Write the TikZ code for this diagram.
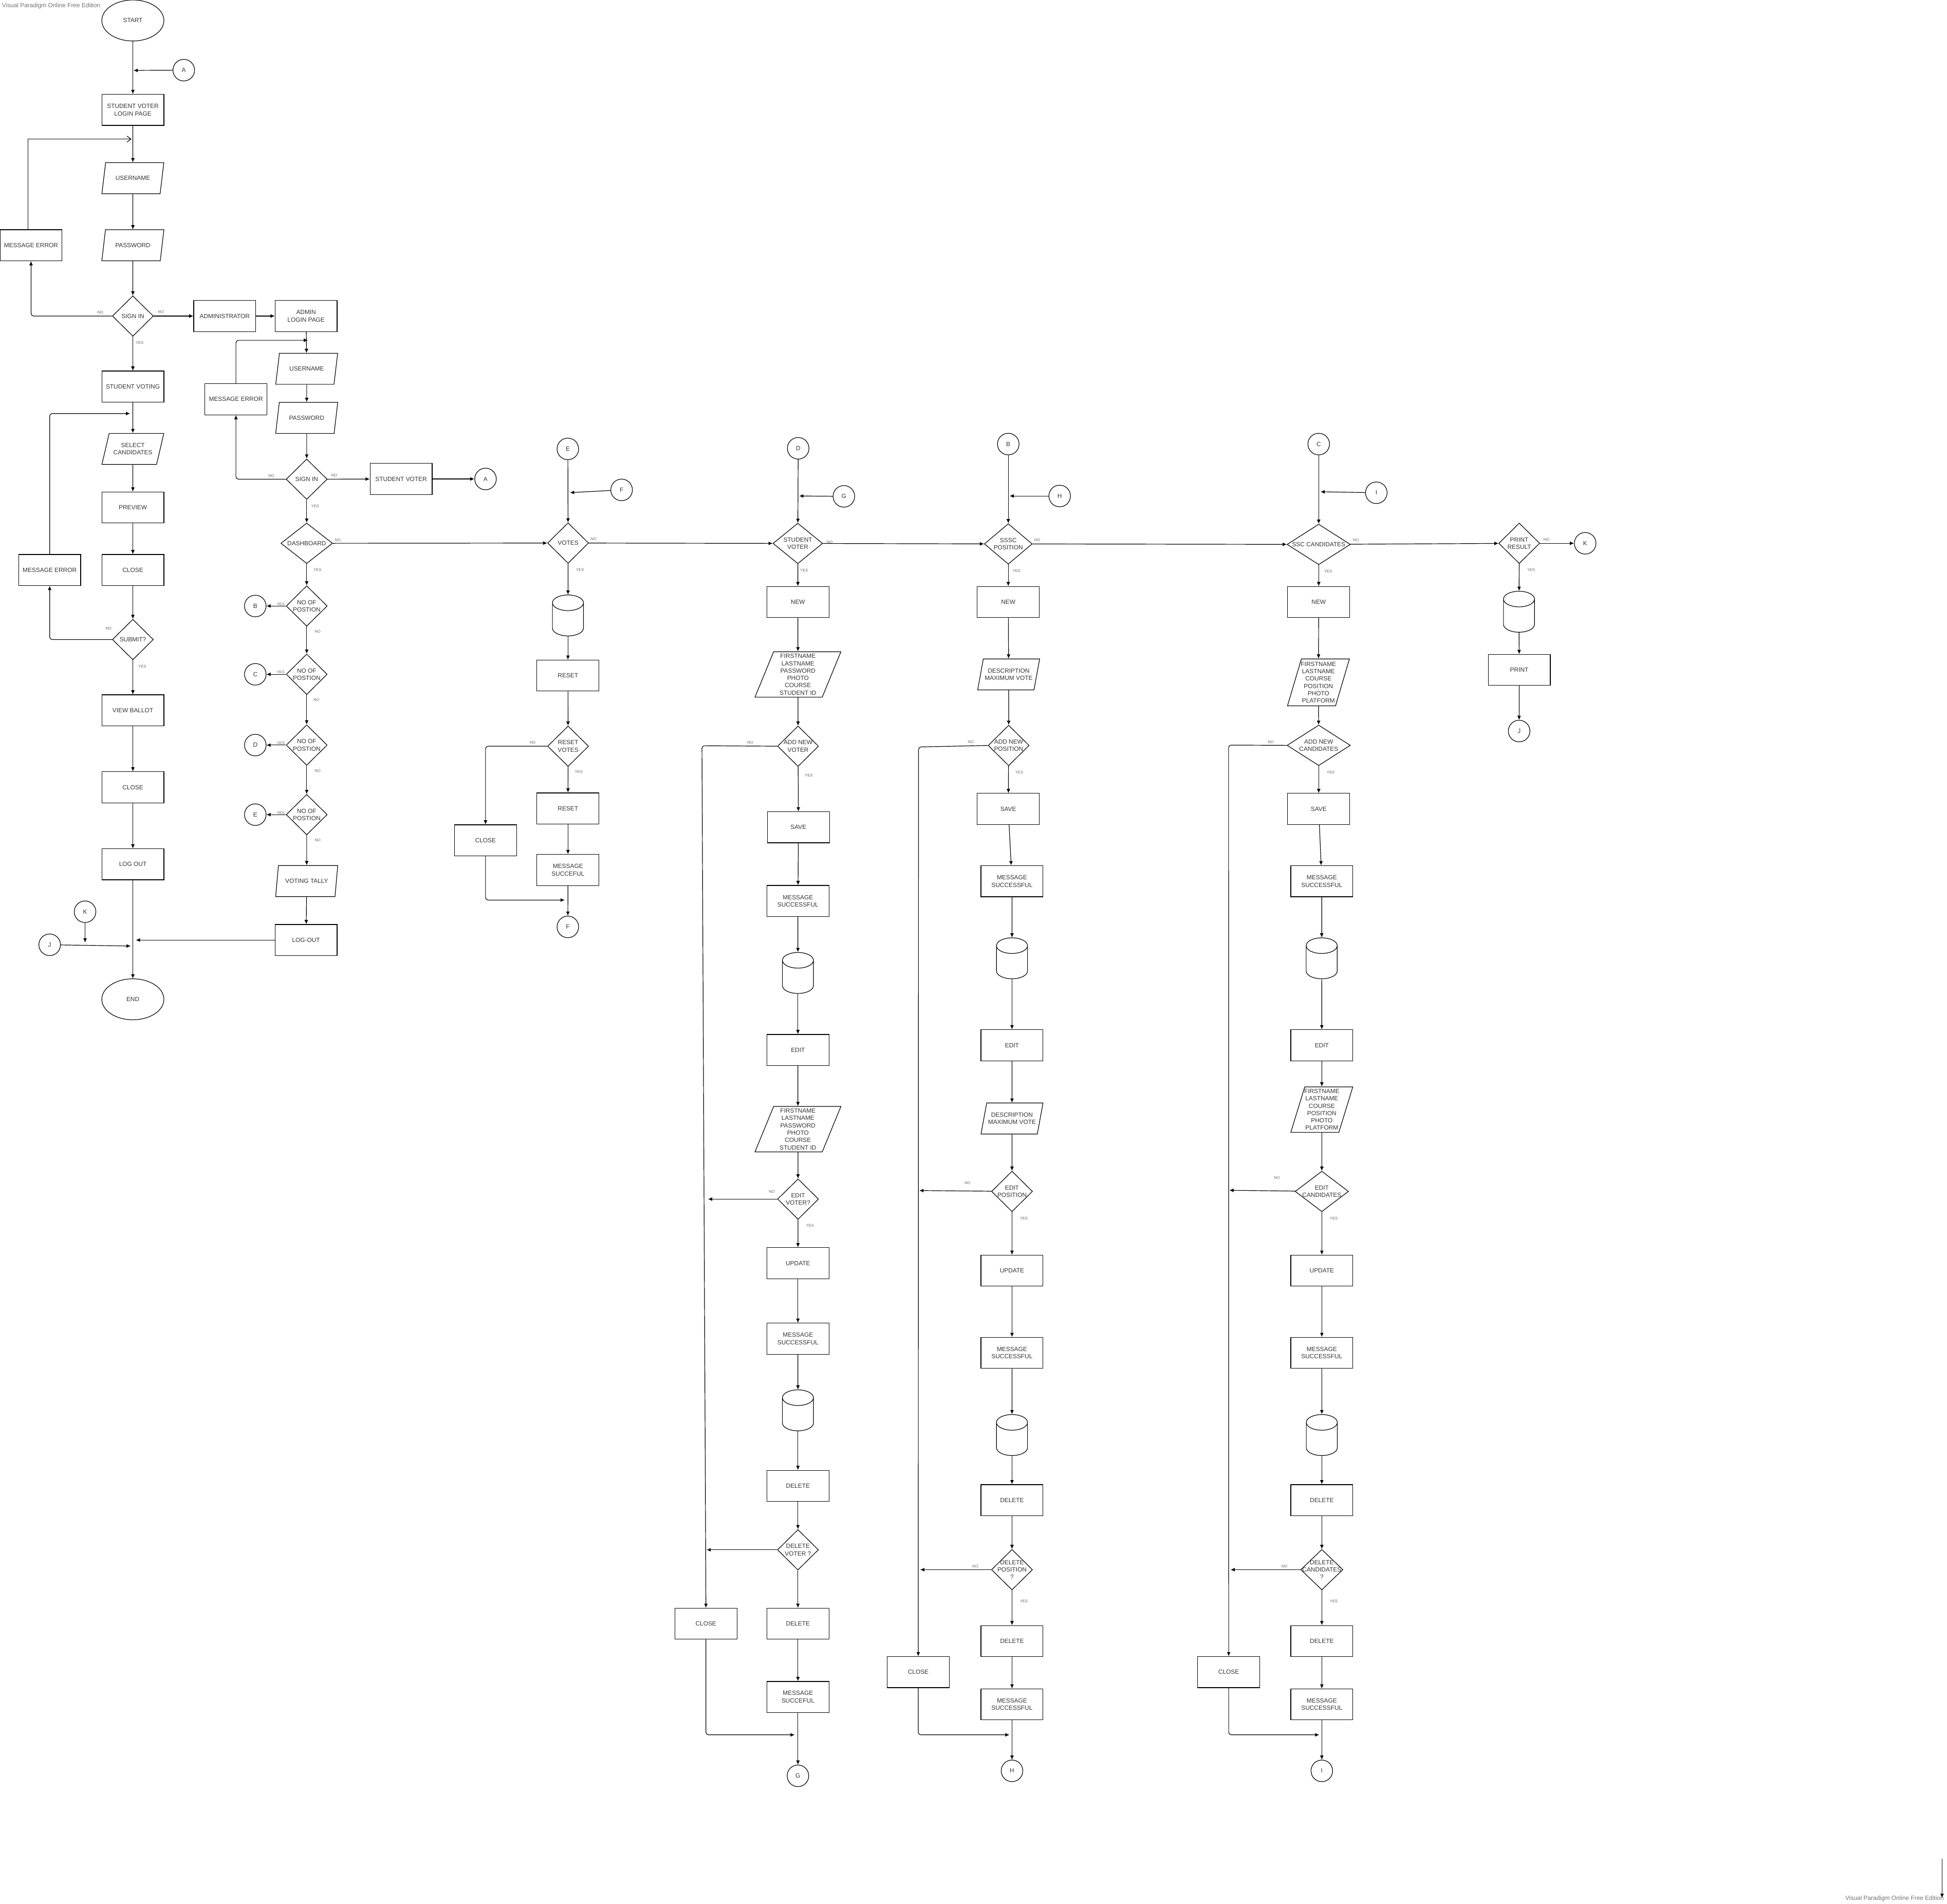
\documentclass[tikz,border=0pt]{standalone}
\usepackage{fontspec}
\setmainfont{Liberation Sans}
\usetikzlibrary{shapes.geometric,arrows.meta}
\begin{document}
\begin{tikzpicture}[x=0.05cm, y=-0.05cm,
    shp/.style={draw, line width=0.7pt, text=black!80, align=center, font=\fontsize{7}{8.5}\selectfont},
    box/.style={shp, rectangle, minimum width=2.5cm, minimum height=1.25cm, inner sep=1pt},
    io/.style={shp, trapezium, trapezium left angle=72, trapezium right angle=108, trapezium stretches=true,
        minimum width=2.5cm, minimum height=1.25cm, inner xsep=-8pt, inner ysep=0pt},
    form/.style={io, trapezium left angle=78, trapezium right angle=102, minimum height=1.83cm,
        font=\fontsize{7}{8.4}\selectfont},
    dec/.style={shp, diamond, minimum width=1.65cm, minimum height=1.63cm, inner sep=-6pt},
    term/.style={shp, ellipse, minimum width=2.5cm, minimum height=1.65cm},
    con/.style={shp, circle, minimum size=0.87cm, inner sep=0pt},
    store/.style={shp, cylinder, shape border rotate=90, aspect=1, minimum width=1.25cm, minimum height=1.65cm,
        inner sep=0.315cm, anchor=shape center},
    arr/.style={line width=0.7pt, -{Latex[length=1.7mm, width=1.5mm]}},
    lbl/.style={font=\fontsize{4.5}{5}\selectfont, text=black!60, inner sep=0.3pt},
    ylab/.style={lbl, at start, anchor=north west, xshift=#1, yshift=-0.17cm}, ylab/.default=0.12cm,
    nrlab/.style={lbl, at start, anchor=south west, xshift=#1, yshift=0.08cm}, nrlab/.default=0.1cm,
    nllab/.style={lbl, at start, anchor=south east, xshift=-#1, yshift=0.06cm}, nllab/.default=0.4cm,
    ywlab/.style={lbl, at start, anchor=south east, xshift=-0.03cm},
    wm/.style={font=\fontsize{7}{8}\selectfont, text=black!55, inner sep=0pt}
]
    \useasboundingbox (0,0) rectangle (1568,1533);

    % Watermarks
    \node[wm, anchor=west] (wm1) at (1.5,4.8) {Visual Paradigm Online Free Edition};
    \node[wm, anchor=east] (wm2) at (1565.5,1529) {Visual Paradigm Online Free Edition};
    \coordinate (s1) at (1564,1497);
    \coordinate (s2) at (1564,1528.3);
    \draw[arr] (s1) -- (s2);

    % Student voter side
    \node[term] (start) at (107,16.5) {START};
    \node[con] (cA1) at (148,56.5) {A};
    \node[box] (svlogin) at (107,88.5) {STUDENT VOTER\\LOGIN PAGE};
    \node[io] (user1) at (107,143.5) {USERNAME};
    \node[io] (pass1) at (107,197.5) {PASSWORD};
    \node[box] (err1) at (25,197.5) {MESSAGE ERROR};
    \node[dec] (sign1) at (107,254.5) {SIGN IN};
    \node[box] (admin) at (181,254.5) {ADMINISTRATOR};
    \node[box] (adlogin) at (246.5,254.5) {ADMIN\\LOGIN PAGE};
    \node[box] (voting) at (107,311.3) {STUDENT VOTING};
    \node[io] (select) at (107,361.5) {SELECT\\CANDIDATES};
    \node[box] (preview) at (107,408.6) {PREVIEW};
    \node[box] (close1) at (107,459) {CLOSE};
    \node[box] (err3) at (40,459) {MESSAGE ERROR};
    \node[dec] (submit) at (107,515) {SUBMIT?};
    \node[box] (ballot) at (107,572) {VIEW BALLOT};
    \node[box] (close2) at (107,634) {CLOSE};
    \node[box] (logout1) at (107,696) {LOG OUT};
    \node[term] (stop) at (107,804.7) {END};
    \node[con] (cK2) at (68.5,734.2) {K};
    \node[con] (cJ2) at (40,760.8) {J};

    \coordinate (jA) at (107.5,56.7);
    \coordinate (jE1) at (105.9,112);
    \coordinate (jS) at (104.8,333);
    \coordinate (jK) at (68.5,759);
    \coordinate (jJ) at (105.3,761.8);
    \coordinate (jL) at (109.4,757);

    \draw[arr] (start) -- (svlogin);
    \draw[arr] (cA1) -- (jA);
    \draw[arr] (svlogin) -- (user1);
    \draw[arr] (user1) -- (pass1);
    \draw[arr] (pass1) -- (sign1);
    \draw[line width=0.7pt, -{Straight Barb[length=1.6mm, width=2.4mm]}] ([xshift=-0.125cm]err1.north) |- (jE1);
    \draw[arr, rounded corners=3pt] (sign1.west) -| node[nllab=0.33cm]{NO} (err1.south);
    \draw[arr] (sign1) -- node[nrlab=0.15cm]{NO} (admin);
    \draw[arr] (admin) -- (adlogin);
    \draw[arr] (sign1) -- node[ylab=0.09cm]{YES} (voting);
    \draw[arr] (voting) -- (select);
    \draw[arr] (select) -- (preview);
    \draw[arr] (preview) -- (close1);
    \draw[arr] (close1) -- (submit);
    \draw[arr, rounded corners=3pt] (submit.west) -| node[nllab=0cm, yshift=0.3cm]{NO} (err3.south);
    \draw[arr, rounded corners=3pt] (err3.north) |- (jS);
    \draw[arr] (submit) -- node[ylab=0.2cm]{YES} (ballot);
    \draw[arr] (ballot) -- (close2);
    \draw[arr] (close2) -- (logout1);
    \draw[arr] (logout1) -- (stop);
    \draw[arr] (cK2) -- (jK);
    \draw[arr] (cJ2) -- (jJ);

    % Administrator side
    \node[io] (user2) at (247,297) {USERNAME};
    \node[box] (err2) at (190,321.5) {MESSAGE ERROR};
    \node[io] (pass2) at (247,336.5) {PASSWORD};
    \node[dec] (sign2) at (247,385.9) {SIGN IN};
    \node[box] (svoter) at (323,385.7) {STUDENT VOTER};
    \node[con] (cA2) at (391,385.7) {A};
    \node[dec, minimum width=2.08cm] (dash) at (247,437.5) {DASHBOARD};
    \node[dec] (pos1) at (247,488) {NO OF\\POSTION};
    \node[con] (cB1) at (205.6,488) {B};
    \node[dec] (pos2) at (247,543) {NO OF\\POSTION};
    \node[con] (cC1) at (205.6,543) {C};
    \node[dec] (pos3) at (247,600) {NO OF\\POSTION};
    \node[con] (cD1) at (205.6,600) {D};
    \node[dec] (pos4) at (247,656) {NO OF\\POSTION};
    \node[con] (cE1) at (205.6,656) {E};
    \node[io] (tally) at (247,709.5) {VOTING TALLY};
    \node[box] (logout2) at (246.5,757) {LOG-OUT};

    \coordinate (jE2) at (248,274);

    \draw[arr] (adlogin) -- (user2);
    \draw[arr, rounded corners=3pt] (err2.north) |- (jE2);
    \draw[arr] (user2) -- (pass2);
    \draw[arr] (pass2) -- (sign2);
    \draw[arr, rounded corners=3pt] (sign2.west) -| node[nllab=0.45cm]{NO} (err2.south);
    \draw[arr] (sign2) -- node[nrlab=0.13cm]{NO} (svoter);
    \draw[arr] (svoter) -- (cA2);
    \draw[arr] (sign2) -- node[ylab=0.16cm]{YES} (dash);
    \draw[arr] (dash) -- node[ylab=0.25cm]{YES} (pos1);
    \draw[arr] (pos1) -- node[ywlab]{YES} (cB1);
    \draw[arr] (pos1) -- node[ylab=0.3cm, yshift=0.05cm]{NO} (pos2);
    \draw[arr] (pos2) -- node[ywlab]{YES} (cC1);
    \draw[arr] (pos2) -- node[ylab=0.25cm, yshift=0.05cm]{NO} (pos3);
    \draw[arr] (pos3) -- node[ywlab]{YES} (cD1);
    \draw[arr] (pos3) -- node[ylab=0.3cm, yshift=0.05cm]{NO} (pos4);
    \draw[arr] (pos4) -- node[ywlab]{YES} (cE1);
    \draw[arr] (pos4) -- node[ylab=0.3cm, yshift=0.05cm]{NO} (tally);
    \draw[arr] (tally) -- (logout2);
    \draw[arr] (logout2) -- (jL);

    % Votes
    \node[con] (cE2) at (457.3,361.5) {E};
    \node[con] (cF1) at (500.6,394.5) {F};
    \node[dec] (votes) at (457.5,437.3) {VOTES};
    \node[store] (db1) at (457.4,495.6) {};
    \node[box] (reset1) at (457.4,544) {RESET};
    \node[dec] (rvotes) at (457.5,600.9) {RESET\\VOTES};
    \node[box] (reset2) at (457.4,651) {RESET};
    \node[box] (msgR) at (457.4,700.6) {MESSAGE\\SUCCEFUL};
    \node[con] (cF2) at (457.3,746.4) {F};
    \node[box] (closeR) at (391,676.7) {CLOSE};

    \coordinate (jF) at (459,396.7);
    \coordinate (jR) at (454.8,724.8);

    \draw[arr] (cE2) -- (votes);
    \draw[arr] (cF1) -- (jF);
    \draw[arr] (votes) -- node[ylab=0.3cm]{YES} (db1);
    \draw[arr] (db1) -- (reset1);
    \draw[arr] (reset1) -- (rvotes);
    \draw[arr, rounded corners=3pt] (rvotes.west) -| node[nllab=0.45cm]{NO} (closeR.north);
    \draw[arr] (rvotes) -- node[ylab=0.25cm, yshift=0.05cm]{YES} (reset2);
    \draw[arr] (reset2) -- (msgR);
    \draw[arr] (msgR) -- (cF2);
    \draw[arr, rounded corners=3pt] (closeR.south) |- (jR);

    % Student voter records
    \node[con] (cD2) at (642.8,361) {D};
    \node[con] (cG1) at (679.6,399.7) {G};
    \node[dec, minimum width=2cm] (svd) at (642.5,437.6) {STUDENT\\VOTER};
    \node[box] (newV) at (642.6,484.8) {NEW};
    \node[form, minimum width=3.47cm] (formV1) at (642.6,543.1) {FIRSTNAME\\LASTNAME\\PASSWORD\\PHOTO\\COURSE\\STUDENT ID};
    \node[dec] (addV) at (642.7,600.9) {ADD NEW\\VOTER};
    \node[box] (saveV) at (643,666.2) {SAVE};
    \node[box] (msgV1) at (642.6,725.5) {MESSAGE\\SUCCESSFUL};
    \node[store] (dbV1) at (642.6,783.5) {};
    \node[box] (editV) at (642.6,845.5) {EDIT};
    \node[form, minimum width=3.47cm] (formV2) at (642.6,909.3) {FIRSTNAME\\LASTNAME\\PASSWORD\\PHOTO\\COURSE\\STUDENT ID};
    \node[dec] (editQV) at (642.7,965.6) {EDIT\\VOTER?};
    \node[box] (updV) at (642.6,1017.2) {UPDATE};
    \node[box] (msgV2) at (642.6,1078) {MESSAGE\\SUCCESSFUL};
    \node[store] (dbV2) at (642.6,1135.7) {};
    \node[box] (delV) at (642.6,1196.5) {DELETE};
    \node[dec] (delQV) at (642.6,1248) {DELETE\\VOTER ?};
    \node[box] (del2V) at (642.6,1307.5) {DELETE};
    \node[box] (msgV3) at (642.6,1366.5) {MESSAGE\\SUCCEFUL};
    \node[con] (cG2) at (642.6,1430) {G};
    \node[box] (closeV) at (568.5,1307.5) {CLOSE};

    \coordinate (jG) at (643.6,399.4);
    \coordinate (jN1) at (565.3,600.5);
    \coordinate (jEV) at (570.2,965.6);
    \coordinate (jDV) at (569,1248);
    \coordinate (jCV) at (640,1397);

    \draw[arr] (cD2) -- (svd);
    \draw[arr] (cG1) -- (jG);
    \draw[arr] (svd) -- node[ylab=0.07cm]{YES} (newV);
    \draw[arr] (newV) -- (formV1);
    \draw[arr] (formV1) -- (addV);
    \draw[arr, rounded corners=3pt] (addV.west) -- node[nllab=0.95cm]{NO} (jN1) -- (closeV.north);
    \draw[arr] (addV) -- node[ylab=0.25cm, yshift=-0.1cm]{YES} (saveV);
    \draw[arr] (saveV) -- (msgV1);
    \draw[arr] (msgV1) -- (dbV1);
    \draw[arr] (dbV1) -- (editV);
    \draw[arr] (editV) -- (formV2);
    \draw[arr] (formV2) -- (editQV);
    \draw[arr] (editQV) -- node[nllab=0.08cm, yshift=0.17cm]{NO} (jEV);
    \draw[arr] (editQV) -- node[ylab=0.3cm]{YES} (updV);
    \draw[arr] (updV) -- (msgV2);
    \draw[arr] (msgV2) -- (dbV2);
    \draw[arr] (dbV2) -- (delV);
    \draw[arr] (delV) -- (delQV);
    \draw[arr] (delQV) -- (jDV);
    \draw[arr] (delQV) -- (del2V);
    \draw[arr] (del2V) -- (msgV3);
    \draw[arr] (msgV3) -- (cG2);
    \draw[arr, rounded corners=3pt] (closeV.south) |- (jCV);

    % SSSC position
    \node[con] (cB2) at (812,357.6) {B};
    \node[con] (cH1) at (853.4,399.4) {H};
    \node[dec, minimum width=1.93cm] (sssc) at (812,438) {SSSC\\POSITION};
    \node[box] (newP) at (812,484.8) {NEW};
    \node[io] (formP1) at (812.3,543.1) {DESCRIPTION\\MAXIMUM VOTE};
    \node[dec] (addP) at (812.3,600.3) {ADD NEW\\POSITION};
    \node[box] (saveP) at (812,651.4) {SAVE};
    \node[box] (msgP1) at (815,709.6) {MESSAGE\\SUCCESSFUL};
    \node[store] (dbP1) at (815,771.7) {};
    \node[box] (editP) at (815,841.7) {EDIT};
    \node[io] (formP2) at (815,900.7) {DESCRIPTION\\MAXIMUM VOTE};
    \node[dec] (editQP) at (815,959.4) {EDIT\\POSITION};
    \node[box] (updP) at (815,1023.2) {UPDATE};
    \node[box] (msgP2) at (815,1089.4) {MESSAGE\\SUCCESSFUL};
    \node[store] (dbP2) at (815,1155.6) {};
    \node[box] (delP) at (815,1208) {DELETE};
    \node[dec] (delQP) at (815,1264) {DELETE\\POSITION\\?};
    \node[box] (del2P) at (815,1321.5) {DELETE};
    \node[box] (msgP3) at (815,1372.5) {MESSAGE\\SUCCESSFUL};
    \node[con] (cH2) at (815,1426) {H};
    \node[box] (closeP) at (739.5,1346.5) {CLOSE};

    \coordinate (jH) at (813,399.4);
    \coordinate (jN2) at (739.7,601.5);
    \coordinate (jEP) at (740.3,958.7);
    \coordinate (jDP) at (741,1264);
    \coordinate (jCP) at (813,1397);

    \draw[arr] (cB2) -- (sssc);
    \draw[arr] (cH1) -- (jH);
    \draw[arr] (sssc) -- node[ylab=0.15cm]{YES} (newP);
    \draw[arr] (newP) -- (formP1);
    \draw[arr] (formP1) -- (addP);
    \draw[arr, rounded corners=3pt] (addP.west) -- node[nllab=0.55cm]{NO} (jN2) -- (closeP.north);
    \draw[arr] (addP) -- node[ylab=0.25cm]{YES} (saveP);
    \draw[arr] (saveP) -- (msgP1);
    \draw[arr] (msgP1) -- (dbP1);
    \draw[arr] (dbP1) -- (editP);
    \draw[arr] (editP) -- (formP2);
    \draw[arr] (formP2) -- (editQP);
    \draw[arr] (editQP) -- node[nllab=0.82cm, yshift=0.2cm]{NO} (jEP);
    \draw[arr] (editQP) -- node[ylab=0.3cm]{YES} (updP);
    \draw[arr] (updP) -- (msgP2);
    \draw[arr] (msgP2) -- (dbP2);
    \draw[arr] (dbP2) -- (delP);
    \draw[arr] (delP) -- (delQP);
    \draw[arr] (delQP) -- node[nllab=0.5cm]{NO} (jDP);
    \draw[arr] (delQP) -- node[ylab=0.3cm, yshift=-0.2cm]{YES} (del2P);
    \draw[arr] (del2P) -- (msgP3);
    \draw[arr] (msgP3) -- (cH2);
    \draw[arr, rounded corners=3pt] (closeP.south) |- (jCP);

    % SSC candidates
    \node[con] (cC2) at (1062,357.6) {C};
    \node[con] (cI1) at (1108.4,396.8) {I};
    \node[dec, minimum width=2.55cm] (sscd) at (1062,438.4) {SSC CANDIDATES};
    \node[box] (newC) at (1062,484.8) {NEW};
    \node[form, minimum height=1.89cm] (formC1) at (1061.8,549.5) {FIRSTNAME\\LASTNAME\\COURSE\\POSITION\\PHOTO\\PLATFORM};
    \node[dec, minimum width=2.55cm] (addC) at (1062,600.2) {ADD NEW\\CANDIDATES};
    \node[box] (saveC) at (1062,651.4) {SAVE};
    \node[box] (msgC1) at (1064.5,709.6) {MESSAGE\\SUCCESSFUL};
    \node[store] (dbC1) at (1064.4,771.7) {};
    \node[box] (editC) at (1064.5,841.7) {EDIT};
    \node[form] (formC2) at (1064.5,893.5) {FIRSTNAME\\LASTNAME\\COURSE\\POSITION\\PHOTO\\PLATFORM};
    \node[dec, minimum width=2.15cm] (editQC) at (1064.5,959.4) {EDIT\\CANDIDATES};
    \node[box] (updC) at (1064.5,1023.2) {UPDATE};
    \node[box] (msgC2) at (1064.5,1089.4) {MESSAGE\\SUCCESSFUL};
    \node[store] (dbC2) at (1064.5,1155.6) {};
    \node[box] (delC) at (1064.5,1208) {DELETE};
    \node[dec, minimum width=1.7cm] (delQC) at (1064.5,1264) {DELETE\\CANDIDATES\\?};
    \node[box] (del2C) at (1064.5,1321.5) {DELETE};
    \node[box] (msgC3) at (1064.5,1372.5) {MESSAGE\\SUCCESSFUL};
    \node[con] (cI2) at (1064.5,1426) {I};
    \node[box] (closeC) at (989.5,1346.5) {CLOSE};

    \coordinate (jI) at (1063.4,396);
    \coordinate (jN3) at (989.4,600);
    \coordinate (jEC) at (990,958.5);
    \coordinate (jDC) at (991,1264);
    \coordinate (jCC) at (1062.5,1397);

    \draw[arr] (cC2) -- (sscd);
    \draw[arr] (cI1) -- (jI);
    \draw[arr] (sscd) -- node[ylab=0.2cm]{YES} (newC);
    \draw[arr] (newC) -- (formC1);
    \draw[arr] (formC1) -- (addC);
    \draw[arr, rounded corners=3pt] (addC.west) -- node[nllab=0.5cm]{NO} (jN3) -- (closeC.north);
    \draw[arr] (addC) -- node[ylab=0.3cm]{YES} (saveC);
    \draw[arr] (saveC) -- (msgC1);
    \draw[arr] (msgC1) -- (dbC1);
    \draw[arr] (dbC1) -- (editC);
    \draw[arr] (editC) -- (formC2);
    \draw[arr] (formC2) -- (editQC);
    \draw[arr] (editQC) -- node[nllab=0.6cm, yshift=0.4cm]{NO} (jEC);
    \draw[arr] (editQC) -- node[ylab=0.3cm]{YES} (updC);
    \draw[arr] (updC) -- (msgC2);
    \draw[arr] (msgC2) -- (dbC2);
    \draw[arr] (dbC2) -- (delC);
    \draw[arr] (delC) -- (delQC);
    \draw[arr] (delQC) -- node[nllab=0.5cm]{NO} (jDC);
    \draw[arr] (delQC) -- node[ylab=0.3cm, yshift=-0.2cm]{YES} (del2C);
    \draw[arr] (del2C) -- (msgC3);
    \draw[arr] (msgC3) -- (cI2);
    \draw[arr, rounded corners=3pt] (closeC.south) |- (jCC);

    % Print result
    \node[dec] (prd) at (1223.5,437.5) {PRINT\\RESULT};
    \node[con] (cK1) at (1276.6,437.5) {K};
    \node[store] (dbR) at (1223.3,492.6) {};
    \node[box] (printR) at (1223.5,539.5) {PRINT};
    \node[con] (cJ1) at (1223.4,588.7) {J};

    \draw[arr] (prd) -- node[nrlab=0.12cm]{NO} (cK1);
    \draw[arr] (prd) -- node[ylab=0.3cm]{YES} (dbR);
    \draw[arr] (dbR) -- (printR);
    \draw[arr] (printR) -- (cJ1);

    % Links between columns
    \draw[arr] (dash) -- node[nrlab=0.06cm, yshift=-0.03cm]{NO} (votes);
    \draw[arr] (votes) -- node[nrlab=0.05cm]{NO} (svd);
    \draw[arr] (svd) -- node[nrlab=0.13cm, yshift=-0.1cm]{NO} (sssc);
    \draw[arr] (sssc) -- node[nrlab=0.05cm]{NO} (sscd);
    \draw[arr] (sscd) -- node[nrlab=0.08cm]{NO} (prd);
\end{tikzpicture}
\end{document}
